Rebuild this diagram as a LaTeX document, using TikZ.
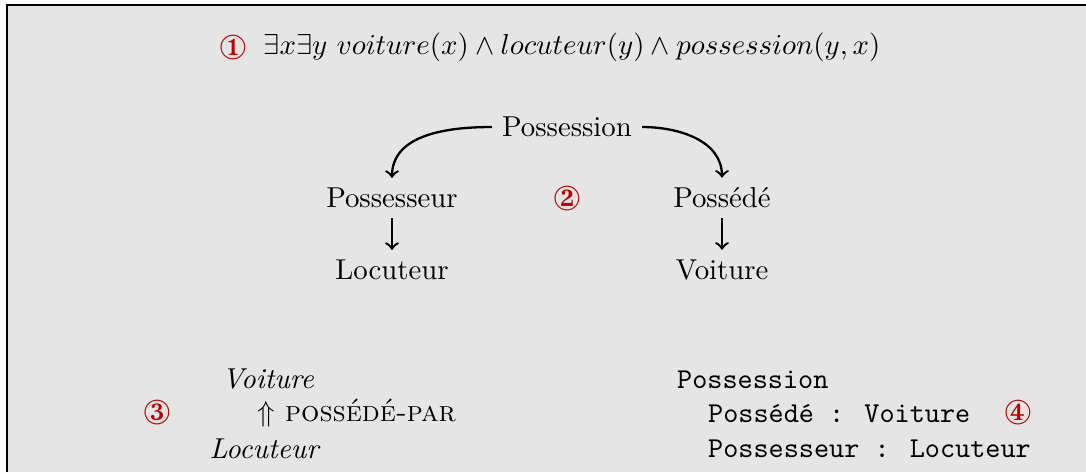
\documentclass[tikz,border=0pt]{standalone}
\usepackage{pifont}
\usetikzlibrary{positioning}
\definecolor{numred}{RGB}{192,0,0}
\tikzset{
  num/.style={text=numred,font=\large},
  fleche/.style={->,thick}
}
\begin{document}
\begin{tikzpicture}[x=0.3472pt,y=-0.3472pt]
            \useasboundingbox (0,0) rectangle (1086,472);
            \fill[gray!20] (7,5) rectangle (1086,472);
            \draw (7,472)--(7,5)--(1086,5);
            % (1) formule logique
            \node[num] (un) at (233,47) {\ding{172}};
            \node (formule) at (572,47)
                {$\exists x\exists y\ voiture(x)\land locuteur(y)\land possession(y,x)$};
            % (2) graphe
            \node (possession) at (567,127) {Possession};
            \node (possesseur) at (392,198) {Possesseur};
            \node (possede) at (722,198) {Possédé};
            \node[num] (deux) at (567,198) {\ding{173}};
            \node (locuteur) at (392,270) {Locuteur};
            \node (voiture) at (722,270) {Voiture};
            \draw[fleche] (possession.west) to[out=180,in=90] (possesseur.north);
            \draw[fleche] (possession.east) to[out=0,in=90] (possede.north);
            \draw[fleche] (possesseur)--(locuteur);
            \draw[fleche] (possede)--(voiture);
            % (3) relation
            \node[num] (trois) at (157,412) {\ding{174}};
            \node (voitureb) at (268,379) {\textit{Voiture}};
            \node (relation) at (357,413) {$\Uparrow$ \textsc{possédé-par}};
            \node (locuteurb) at (265,449) {\textit{Locuteur}};
            % (4) structure
            \node[anchor=west] (struct) at (667,380) {\texttt{Possession}};
            \node[anchor=west] (champa) at (698,414) {\texttt{Possédé : Voiture}};
            \node[anchor=west] (champb) at (698,449) {\texttt{Possesseur : Locuteur}};
            \node[num] (quatre) at (1018,412) {\ding{175}};
\end{tikzpicture}
\end{document}
